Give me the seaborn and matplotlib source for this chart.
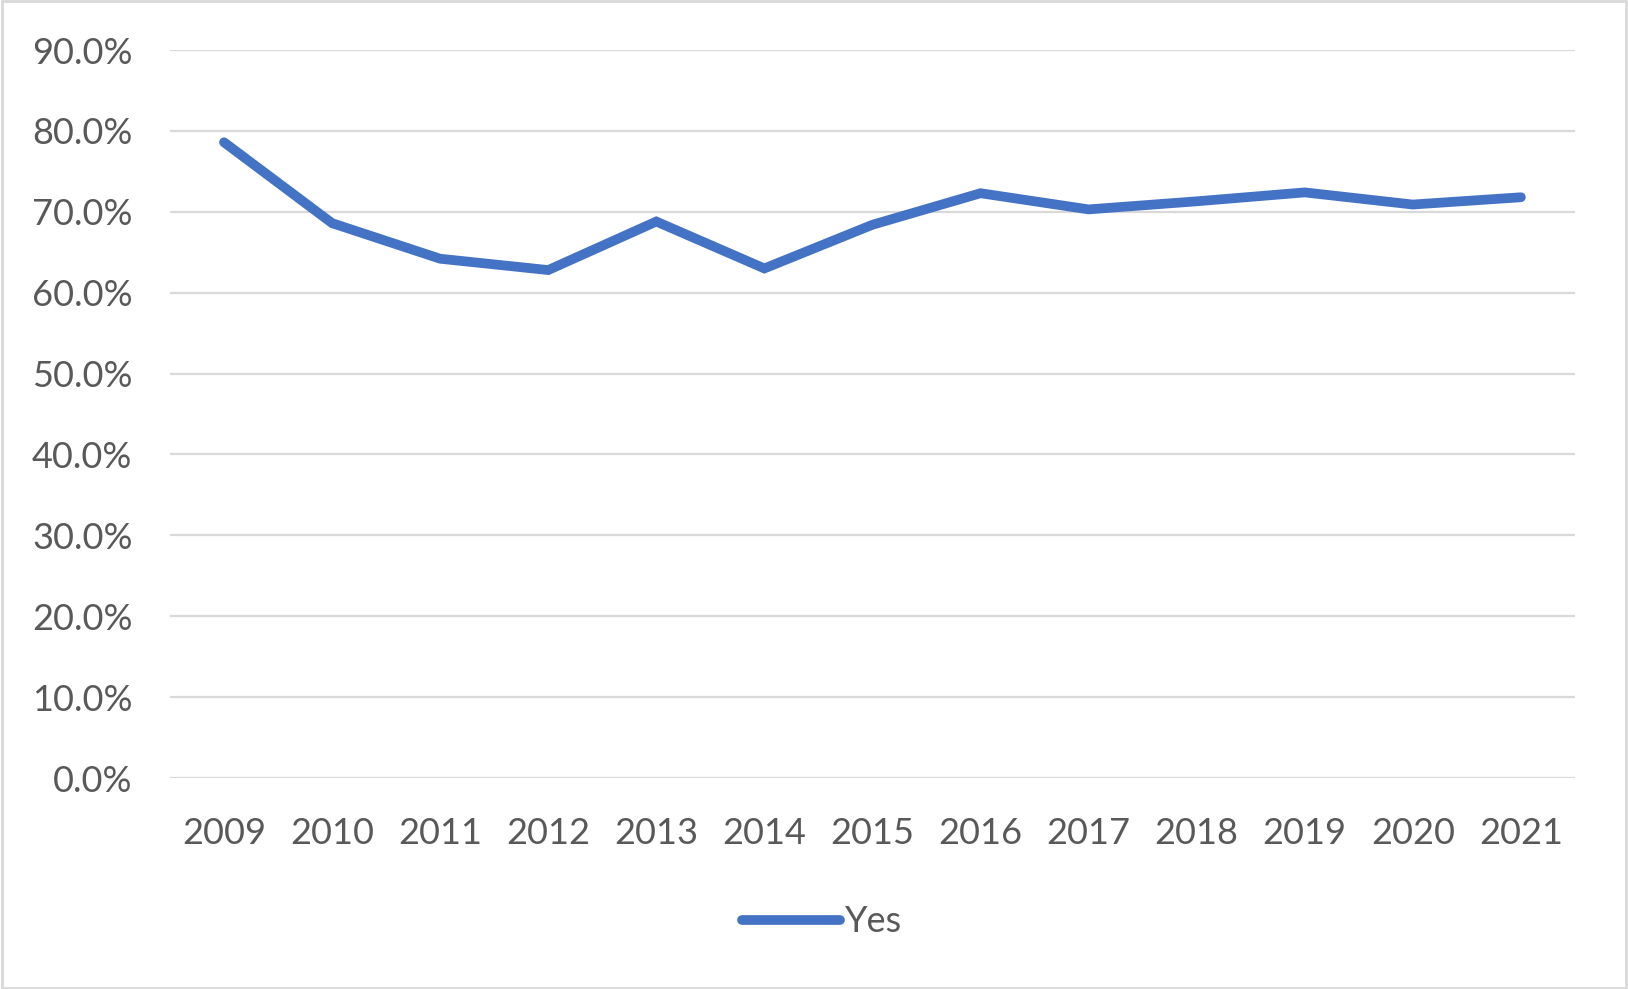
import pandas as pd
import matplotlib.pyplot as plt
import matplotlib.patches as mpatches
from matplotlib.ticker import FuncFormatter, MultipleLocator
import seaborn as sns

# data
years = ['2009', '2010', '2011', '2012', '2013', '2014', '2015',
         '2016', '2017', '2018', '2019', '2020', '2021']
yes_share = [0.786, 0.686, 0.642, 0.628, 0.688, 0.630, 0.684,
             0.723, 0.703, 0.713, 0.724, 0.709, 0.718]

df = pd.DataFrame({'year': years, 'share': yes_share})

sns.set_style('white')
plt.rcParams['font.family'] = ['Lato', 'DejaVu Sans']

text_col = '#595959'
fig = plt.figure(figsize=(16.28, 9.89), dpi=100)
ax = fig.add_axes([0.1044, 0.2133, 0.8630, 0.7361])

sns.lineplot(data=df, x='year', y='share', ax=ax, color='#4472C4',
             linewidth=7, solid_capstyle='round', solid_joinstyle='miter',
             sort=False, label='Yes', legend=False)

ax.set_xlim(-0.5, len(years) - 0.5)
ax.set_ylim(0, 0.9)
ax.yaxis.set_major_locator(MultipleLocator(0.1))
ax.yaxis.set_major_formatter(FuncFormatter(lambda v, p: f'{v*100:.1f}%'))
ax.grid(axis='y', color='#D9D9D9', linewidth=1.6)
ax.grid(axis='x', visible=False)
ax.set_axisbelow(True)
for s in ax.spines.values():
    s.set_visible(False)
ax.tick_params(axis='y', length=0, pad=27, labelsize=26, labelcolor=text_col)
ax.tick_params(axis='x', length=0, pad=28, labelsize=26, labelcolor=text_col)
ax.set_xlabel('')
ax.set_ylabel('')

h, l = ax.get_legend_handles_labels()
fig.legend(h, l, loc='center', bbox_to_anchor=(0.505, 1 - 922 / 989),
           frameon=False, fontsize=26, labelcolor=text_col,
           handlelength=2.7, handletextpad=0.15)

# light frame round the whole chart
fig.patches.append(mpatches.Rectangle((0.001, 0.001), 0.998, 0.998,
                                      transform=fig.transFigure, fill=False,
                                      edgecolor='#D9D9D9', linewidth=2))

fig.savefig('out.png', dpi=100, facecolor='white')
